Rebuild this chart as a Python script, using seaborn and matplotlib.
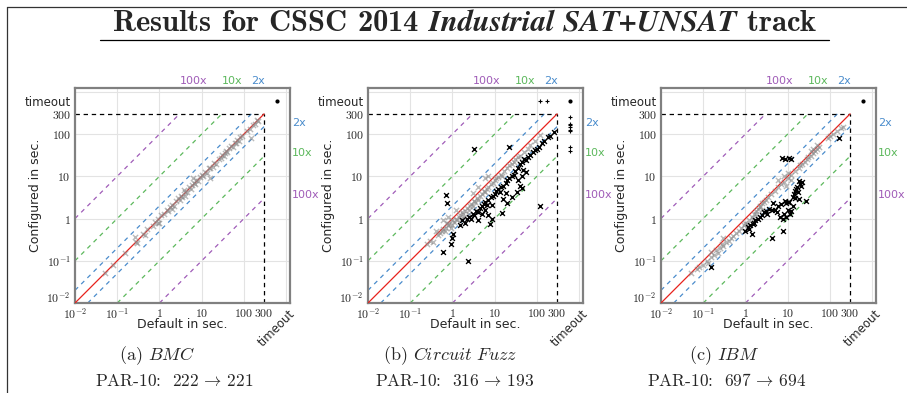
import numpy as np
import pandas as pd
import seaborn as sns
import matplotlib.pyplot as plt
import matplotlib.transforms as mtrans
from matplotlib.lines import Line2D

# ---------------- data ----------------
panel_names = ["BMC", "Circuit Fuzz", "IBM"]
panel_letters = ["a", "b", "c"]
par10_default = [222, 316, 697]
par10_config = [221, 193, 694]

tick_values = [0.01, 0.1, 1, 10, 100, 300, 600]
tick_labels = [r"$10^{-2}$", r"$10^{-1}$", r"$1$", r"$10$", r"$100$", r"$300$", "timeout"]
factor_values = [2, 10, 100]
factor_labels = ["2x", "10x", "100x"]

# BMC
bmc_gray_x = [0.05, 0.08, 0.15, 0.26, 0.28, 0.3, 0.4, 0.45, 0.5, 0.7, 0.8, 0.9, 1.1, 1.3, 1.5, 1.6, 1.8, 2, 2.2,
              2.5, 2.8, 3, 3.2, 3.5, 4, 4.5, 5, 5.5, 6, 6.5, 7, 7.5, 8, 9, 10, 11, 12, 13, 15.8, 15, 16, 18, 20,
              22, 25, 28, 30, 33, 35, 38, 40, 45, 50, 55, 60, 65, 70, 75, 80, 90, 145, 120, 140, 160, 180, 200,
              210, 6.1, 4, 2, 0.9, 3.8, 0.95]
bmc_gray_y = [0.05, 0.08, 0.15, 0.36, 0.28, 0.27, 0.42, 0.4, 0.55, 0.65, 0.85, 0.8, 1.2, 1.25, 1.6, 1.5, 1.9, 2.1, 2.0,
              2.6, 3.0, 2.7, 3.5, 3.3, 4.2, 4.3, 5.5, 5.0, 6.2, 7, 6.5, 8, 7.8, 9.5, 10.5, 10, 12.5, 12, 9, 15.5, 16,
              17, 21, 20, 26, 27, 32, 30, 36, 40, 38, 46, 52, 50, 63, 62, 72, 70, 85, 88, 79, 120, 135, 165, 170,
              210, 200, 9, 3.5, 1.7, 1.0, 4.8, 0.78]
bmc_black_x = [600]
bmc_black_y = [600]
bmc_edge_x = []
bmc_edge_y = []

# Circuit Fuzz
cf_gray_x = [0.3, 0.35, 0.45, 0.5, 0.55, 0.6, 0.65, 0.7, 0.75, 0.8, 0.85, 0.9, 1.0, 1.0, 1.1, 1.2, 1.3, 1.4, 1.5,
             1.6, 1.7, 1.8, 2.0, 2.2, 2.4, 2.6, 2.8, 3.0, 3.2, 3.5, 3.8, 4.0, 4.5, 5, 5.5, 6, 6.5, 7, 8, 9, 10,
             11, 12, 14, 15, 17, 20, 22, 25, 28, 30, 35, 40, 50, 60, 70, 90, 120, 0.4, 0.6, 0.8, 6, 7, 3, 4,
             0.25, 1.2, 2.5, 1.9]
cf_gray_y = [0.3, 0.28, 0.4, 0.45, 0.5, 0.55, 0.5, 0.6, 0.8, 0.7, 0.75, 0.6, 0.9, 0.7, 0.85, 1.0, 0.9, 1.1, 1.2,
             1.0, 1.4, 1.3, 1.5, 1.8, 1.6, 2.0, 2.2, 2.0, 2.6, 2.5, 3.0, 2.8, 3.5, 3.8, 4.5, 4.2, 5, 5.5, 6.5, 7,
             8, 9, 9.5, 11, 10, 13, 16, 18, 20, 22, 25, 28, 30, 38, 45, 55, 70, 95, 0.5, 0.9, 1.1, 9, 10, 4, 5.5,
             0.25, 1.6, 1.3, 1.1]
cf_black_x = [3.2, 22, 0.72, 0.76, 0.6, 0.9, 1.03, 2.3, 0.95, 8.8, 7.9, 15.2, 19.2, 34, 44, 26, 121, 47, 56, 15.6,
              40, 1.5, 1.7, 2, 2.2, 2.5, 2.8, 3, 3.3, 3.6, 4, 4.5, 5, 5.5, 6, 6.5, 7, 8, 9, 10, 11, 12, 13, 14,
              16, 18, 20, 22, 25, 28, 30, 35, 40, 45, 50, 55, 60, 70, 80, 90, 100, 110, 130, 150, 180, 200, 250,
              4, 5, 6, 7, 8.5, 18, 35, 45, 600]
cf_black_y = [44, 49, 3.7, 2.3, 0.16, 0.25, 0.42, 0.1, 0.35, 0.98, 0.75, 1.34, 2.3, 4.2, 5.3, 3.2, 2.0, 14, 12.6, 2.9,
              6, 0.7, 0.9, 0.8, 1.0, 1.1, 1.0, 1.3, 1.2, 1.5, 1.4, 1.8, 2, 2.2, 2.4, 2.1, 2.8, 3.2, 3.5, 3.8, 4.5,
              5.0, 4.2, 5.5, 6, 7, 8, 9, 10, 11, 13, 16, 20, 22, 25, 24, 28, 32, 38, 42, 45, 50, 60, 70, 85, 90,
              110, 0.9, 1.3, 1.6, 1.2, 2.1, 4, 8, 10, 600]
cf_edge_x = [117, 176, 600, 600, 600, 600, 600, 600, 600, 600]
cf_edge_y = [600, 600, 259, 176, 160, 146, 125, 116, 50, 40]

# IBM
ibm_gray_x = [0.05, 0.07, 0.08, 0.1, 0.12, 0.13, 0.15, 0.18, 0.2, 0.22, 0.25, 0.28, 0.3, 0.35, 0.4, 0.45, 0.5,
              0.6, 0.7, 0.8, 0.9, 1.0, 1.1, 1.2, 1.4, 1.5, 1.6, 1.8, 2.0, 2.2, 2.5, 2.8, 3, 2.5, 1.8, 3.5, 4, 5,
              6, 7, 8, 10, 12, 15, 18, 20, 22, 25, 28, 30, 35, 40, 45, 50, 55, 35, 40, 50, 90, 100, 120, 150,
              180, 200, 8, 10, 6, 9, 12, 0.3, 0.15, 2.17]
ibm_gray_y = [0.05, 0.065, 0.07, 0.08, 0.1, 0.09, 0.12, 0.14, 0.18, 0.15, 0.2, 0.25, 0.22, 0.28, 0.3, 0.35, 0.38,
              0.45, 0.5, 0.6, 0.7, 0.8, 0.75, 0.9, 1.1, 1.0, 1.3, 1.5, 1.7, 2.0, 2.3, 2.5, 2.8, 1.6, 1.3, 3.2, 3.8,
              4.5, 5.5, 6.5, 7.5, 9, 11, 13, 16, 18, 20, 22, 25, 28, 30, 35, 40, 45, 50, 40, 45, 55, 80, 90, 100,
              120, 140, 150, 10, 12, 8, 6, 8, 0.35, 0.16, 1.86]
ibm_black_x = [7.5, 8.5, 11, 12, 4.2, 18.5, 22, 17.6, 13, 8.5, 7, 4.5, 6.4, 7.7, 9.2, 11.3, 13, 7.8, 4.3, 1.45,
               1.15, 1.6, 2.2, 2.8, 3.7, 27, 19, 160, 0.15, 1, 1.2, 1.3, 1.5, 1.7, 2, 2.5, 3, 3.3, 5, 6, 5.5, 9,
               10, 11, 14, 15, 16, 17, 20, 21, 15, 10, 12, 8, 600]
ibm_black_y = [27, 25, 27, 25, 1.55, 7.9, 7.2, 4.2, 3.3, 2.6, 2.2, 2.3, 1.1, 1.0, 1.1, 1.3, 2.0, 0.52, 0.34, 0.43,
               0.63, 0.8, 1.1, 1.4, 1.7, 2.6, 2.9, 82, 0.07, 0.5, 0.55, 0.7, 0.75, 0.9, 1.0, 1.2, 1.5, 1.3, 1.6, 2.0,
               1.4, 2.3, 2.5, 2.4, 3.8, 4.5, 5, 5.5, 6.5, 5.8, 3, 1.6, 1.5, 1.3, 600]
ibm_edge_x = []
ibm_edge_y = []

panels = [
    (bmc_gray_x, bmc_gray_y, bmc_black_x, bmc_black_y, bmc_edge_x, bmc_edge_y),
    (cf_gray_x, cf_gray_y, cf_black_x, cf_black_y, cf_edge_x, cf_edge_y),
    (ibm_gray_x, ibm_gray_y, ibm_black_x, ibm_black_y, ibm_edge_x, ibm_edge_y),
]

# ---------------- style ----------------
sns.set_style("white")
plt.rcParams["font.family"] = ["DejaVu Sans"]
plt.rcParams["mathtext.fontset"] = "cm"

BLUE = "#4a8ccc"
GREEN = "#5cb85c"
PURPLE = "#a05cb8"
RED = "#e8221c"
SPINE = "#808080"
GRID = "#e3e3e3"
factor_colors = [BLUE, GREEN, PURPLE]

LO, CUT, TO, HI = 0.01, 300, 600, 1230

W, H = 907, 393
fig = plt.figure(figsize=(W / 100, H / 100), dpi=100)

ax_lefts = [75, 368, 661]
ax_size = 215
ax_bottom = 303

caption_centers = [(157, 174), (450, 455), (724, 727)]

for i, (gx, gy, bx, by, ex, ey) in enumerate(panels):
    ax = fig.add_axes([ax_lefts[i] / W, (H - ax_bottom) / H, ax_size / W, ax_size / H])
    ax.set_xscale("log")
    ax.set_yscale("log")
    ax.set_xlim(LO, HI)
    ax.set_ylim(LO, HI)

    for v in [0.1, 1, 10, 100, 1000]:
        ax.axvline(v, color=GRID, lw=0.8, zorder=0)
        ax.axhline(v, color=GRID, lw=0.8, zorder=0)

    ax.plot([LO, CUT], [LO, CUT], color=RED, lw=0.9, zorder=3)
    for f, c in zip(factor_values, factor_colors):
        ax.plot([LO, CUT / f], [LO * f, CUT], color=c, lw=0.9, ls=(0, (3.5, 3.5)), zorder=2)
        ax.plot([LO * f, CUT], [LO, CUT / f], color=c, lw=0.9, ls=(0, (3.5, 3.5)), zorder=2)
    ax.plot([LO, CUT], [CUT, CUT], color="black", lw=0.9, ls=(0, (3.5, 3.0)), zorder=2)
    ax.plot([CUT, CUT], [LO, CUT], color="black", lw=0.9, ls=(0, (3.5, 3.0)), zorder=2)

    gdf = pd.DataFrame({"default": gx, "configured": gy})
    sns.scatterplot(data=gdf, x="default", y="configured", ax=ax, marker="x", color="#8c8c8c",
                    alpha=0.6, s=14, linewidth=1.0, zorder=4)
    bdf = pd.DataFrame({"default": bx[:-1], "configured": by[:-1]})
    if len(bdf):
        sns.scatterplot(data=bdf, x="default", y="configured", ax=ax, marker="x", color="black",
                        s=12, linewidth=1.0, zorder=5)
    tdf = pd.DataFrame({"default": bx[-1:], "configured": by[-1:]})
    sns.scatterplot(data=tdf, x="default", y="configured", ax=ax, marker="o", color="black",
                    s=9, linewidth=0, zorder=6)
    if len(ex):
        edf = pd.DataFrame({"default": ex, "configured": ey})
        sns.scatterplot(data=edf, x="default", y="configured", ax=ax, marker="+", color="black",
                        s=10, linewidth=0.8, zorder=6)

    ax.set_xticks(tick_values)
    ax.set_yticks(tick_values)
    ax.set_xticklabels(tick_labels)
    ax.set_yticklabels(tick_labels)
    ax.minorticks_off()
    ax.tick_params(axis="x", which="major", length=0, pad=3, labelsize=8.5)
    ax.tick_params(axis="y", which="major", length=0, pad=3, labelsize=8.5)
    xl = ax.get_xticklabels()
    xl[-1].set_rotation(45)
    xl[-1].set_ha("center")
    # lowest y tick label sits on its baseline so it clears the x tick label
    yl = ax.get_yticklabels()
    yl[0].set_va("baseline")

    for sp in ax.spines.values():
        sp.set_color(SPINE)
        sp.set_linewidth(1.6)

    ax.set_xlabel("Default in sec.", fontsize=9)
    ax.set_ylabel("Configured in sec.", fontsize=9)
    ax.xaxis.set_label_coords(0.5, -0.072)
    ax.yaxis.set_label_coords(-0.152, 0.5)

    top_tr = mtrans.blended_transform_factory(ax.transData, ax.transAxes)
    right_tr = mtrans.blended_transform_factory(ax.transAxes, ax.transData)
    right_y = {2: 187, 10: 36, 100: 3.7}
    for f, lab, c in zip(factor_values, factor_labels, factor_colors):
        ax.text(CUT / f, 1.01, lab, transform=top_tr, ha="left", va="bottom", color=c, fontsize=8,
                clip_on=False)
        ax.text(1.01, right_y[f], lab, transform=right_tr, ha="left", va="center", color=c, fontsize=8,
                clip_on=False)

    c1, c2 = caption_centers[i]
    name_math = r"\ ".join(panel_names[i].split(" "))
    fig.text(c1 / W, 1 - 356 / H, "(" + panel_letters[i] + ") $\\mathit{" + name_math + "}$",
             fontfamily="cmr10", fontsize=13, ha="center", va="center")
    fig.text(c2 / W, 1 - 381 / H,
             "PAR-10:  %d$\\,\\rightarrow\\,$%d" % (par10_default[i], par10_config[i]),
             fontfamily="cmr10", fontsize=12.5, ha="center", va="center")

fig.text(465 / W, 1 - 23 / H,
         r"Results for CSSC 2014 $\mathbfit{Industrial\ SAT{+}UNSAT}$ track",
         fontfamily="cmb10", fontsize=22, ha="center", va="center")
fig.add_artist(Line2D([100 / W, 829 / W], [1 - 40 / H, 1 - 40 / H], color="black", lw=0.9,
                      transform=fig.transFigure))
fig.add_artist(Line2D([7 / W, 1.0], [1 - 7 / H, 1 - 7 / H], color="#333333", lw=0.9,
                      transform=fig.transFigure))
fig.add_artist(Line2D([7 / W, 7 / W], [0, 1 - 7 / H], color="#333333", lw=0.9,
                      transform=fig.transFigure))

fig.savefig("out.png", dpi=100)
